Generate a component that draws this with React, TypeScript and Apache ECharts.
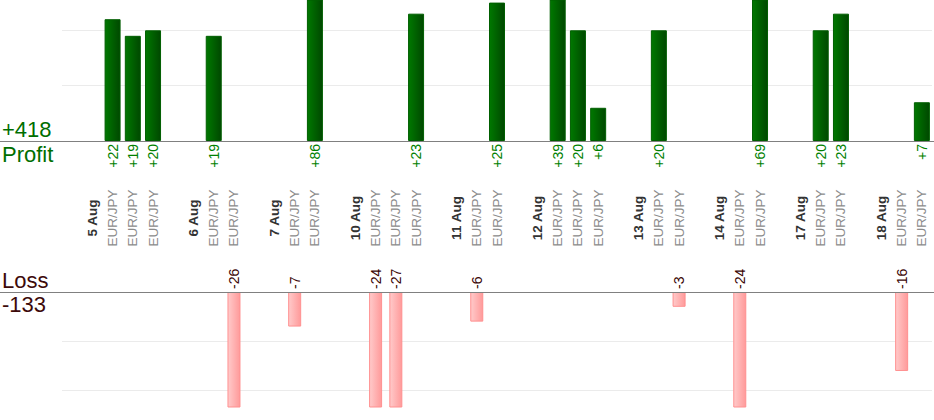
import React, { useEffect, useRef } from "react";
import * as echarts from "echarts";

// ---- data ----
const days = ["5 Aug", "6 Aug", "7 Aug", "10 Aug", "11 Aug", "12 Aug", "13 Aug", "14 Aug", "17 Aug", "18 Aug"];
const pair = "EUR/JPY";
const results: number[][] = [
  [22, 19, 20],
  [19, -26],
  [-7, 86],
  [-24, -27, 23],
  [-6, 25],
  [39, 20, 6],
  [20, -3],
  [-24, 69],
  [20, 23],
  [-16, 7],
];
const tickStep = 10;
const profitMax = 25.47;
const lossMax = 23.3;

// ---- layout ----
const FONT = "'Liberation Sans', Arial, sans-serif";
const W = 934;
const plotLeft = 62;
const plotRight = 2;
const profitAxisY = 141;
const lossAxisY = 292;
const lossBottom = 407;
const labelCenterY = 218;

type Slot = { text: string; kind: "day" | "trade" | "gap"; value: number | null };

function buildSlots(): Slot[] {
  const slots: Slot[] = [{ text: "", kind: "gap", value: null }];
  days.forEach((d, i) => {
    if (i > 0) slots.push({ text: "", kind: "gap", value: null });
    slots.push({ text: d, kind: "day", value: null });
    results[i].forEach((v) => slots.push({ text: pair, kind: "trade", value: v }));
  });
  return slots;
}

function buildOption() {
  const slots = buildSlots();
  const cats = slots.map((_, i) => String(i));
  const profitData = slots.map((s) => (s.value !== null && s.value > 0 ? s.value : "-"));
  const lossData = slots.map((s) => (s.value !== null && s.value < 0 ? -s.value : "-"));
  const all = results.flat();
  const totalProfit = all.filter((v) => v > 0).reduce((a, b) => a + b, 0);
  const totalLoss = all.filter((v) => v < 0).reduce((a, b) => a + b, 0);

  const hiddenX = (gridIndex: number) => ({
    type: "category",
    gridIndex,
    data: cats,
    boundaryGap: true,
    axisLine: { show: false },
    axisTick: { show: false },
    axisLabel: { show: false },
    splitLine: { show: false },
  });

  const split = {
    show: true,
    showMinLine: false,
    showMaxLine: false,
    lineStyle: { color: "#ebebeb", width: 1 },
  };

  return {
    animation: false,
    textStyle: { fontFamily: FONT },
    grid: [
      { left: plotLeft, right: plotRight, top: 0, height: profitAxisY, outerBoundsMode: "none" },
      { left: plotLeft, right: plotRight, top: lossAxisY, height: lossBottom - lossAxisY, outerBoundsMode: "none" },
      { left: plotLeft, right: plotRight, top: labelCenterY, height: 1, outerBoundsMode: "none" },
    ],
    xAxis: [
      hiddenX(0),
      hiddenX(1),
      {
        type: "category",
        gridIndex: 2,
        position: "top",
        data: cats,
        boundaryGap: true,
        axisLine: { show: false },
        axisTick: { show: false },
        splitLine: { show: false },
        axisLabel: {
          show: true,
          interval: 0,
          rotate: 90,
          margin: 0,
          align: "center",
          verticalAlign: "middle",
          hideOverlap: false,
          formatter: (_v: string, idx: number) => {
            const s = slots[idx];
            if (!s || !s.text) return "";
            return s.kind === "day" ? `{d|${s.text}}` : `{p|${s.text}}`;
          },
          rich: {
            d: { fontFamily: FONT, fontSize: 13.5, fontWeight: "bold", color: "#333333" },
            p: { fontFamily: FONT, fontSize: 13.5, color: "#8c8c8c" },
          },
        },
      },
    ],
    yAxis: [
      {
        type: "value",
        gridIndex: 0,
        min: 0,
        max: profitMax,
        interval: tickStep,
        axisLine: { show: false },
        axisTick: { show: false },
        axisLabel: { show: false },
        splitLine: split,
      },
      {
        type: "value",
        gridIndex: 1,
        min: 0,
        max: lossMax,
        inverse: true,
        interval: tickStep,
        axisLine: { show: false },
        axisTick: { show: false },
        axisLabel: { show: false },
        splitLine: split,
      },
      {
        type: "value",
        gridIndex: 2,
        show: false,
      },
    ],
    series: [
      {
        type: "bar",
        xAxisIndex: 0,
        yAxisIndex: 0,
        data: profitData,
        barWidth: 16,
        clip: true,
        silent: true,
        itemStyle: {
          color: new echarts.graphic.LinearGradient(0, 0, 1, 0, [
            { offset: 0, color: "#007800" },
            { offset: 1, color: "#004800" },
          ]),
          borderColor: "#005e00",
          borderWidth: 1,
        },
        label: {
          show: true,
          position: "bottom",
          distance: 3,
          rotate: 90,
          align: "right",
          verticalAlign: "middle",
          fontFamily: FONT,
          fontSize: 14,
          color: "#008000",
          formatter: (p: any) => "+" + p.value,
        },
      },
      {
        type: "bar",
        xAxisIndex: 1,
        yAxisIndex: 1,
        data: lossData,
        barWidth: 13,
        clip: true,
        silent: true,
        itemStyle: {
          color: new echarts.graphic.LinearGradient(0, 0, 1, 0, [
            { offset: 0, color: "#ffcaca" },
            { offset: 1, color: "#ff9a9a" },
          ]),
          borderColor: "#ff9090",
          borderWidth: 1,
        },
        label: {
          show: true,
          position: "top",
          distance: 3,
          rotate: 90,
          align: "left",
          verticalAlign: "middle",
          fontFamily: FONT,
          fontSize: 14,
          color: "#3a0505",
          formatter: (p: any) => "-" + p.value,
        },
      },
    ],
    graphic: [
      {
        type: "line",
        z: 100,
        silent: true,
        shape: { x1: 0, y1: profitAxisY + 0.5, x2: W, y2: profitAxisY + 0.5 },
        style: { stroke: "#808080", lineWidth: 1.2 },
      },
      {
        type: "line",
        z: 100,
        silent: true,
        shape: { x1: 0, y1: lossAxisY + 0.5, x2: W, y2: lossAxisY + 0.5 },
        style: { stroke: "#808080", lineWidth: 1.2 },
      },
      {
        type: "text",
        x: 2,
        y: profitAxisY - 12,
        style: { text: "+" + totalProfit, font: `22px ${FONT}`, fill: "#006e00", verticalAlign: "middle" },
      },
      {
        type: "text",
        x: 2,
        y: profitAxisY + 13,
        style: { text: "Profit", font: `22px ${FONT}`, fill: "#006e00", verticalAlign: "middle" },
      },
      {
        type: "text",
        x: 2,
        y: lossAxisY - 11.5,
        style: { text: "Loss", font: `22px ${FONT}`, fill: "#3d0a0a", verticalAlign: "middle" },
      },
      {
        type: "text",
        x: 2,
        y: lossAxisY + 12,
        style: { text: String(totalLoss), font: `22px ${FONT}`, fill: "#3d0a0a", verticalAlign: "middle" },
      },
    ],
  };
}

export default function App() {
  const ref = useRef<HTMLDivElement>(null);
  useEffect(() => {
    document.body.style.margin = "0";
    if (!ref.current) return;
    const chart = echarts.init(ref.current, null, { renderer: "svg" });
    chart.setOption(buildOption() as any);
    return () => chart.dispose();
  }, []);
  return <div ref={ref} style={{ width: 934, height: 420 }} />;
}
